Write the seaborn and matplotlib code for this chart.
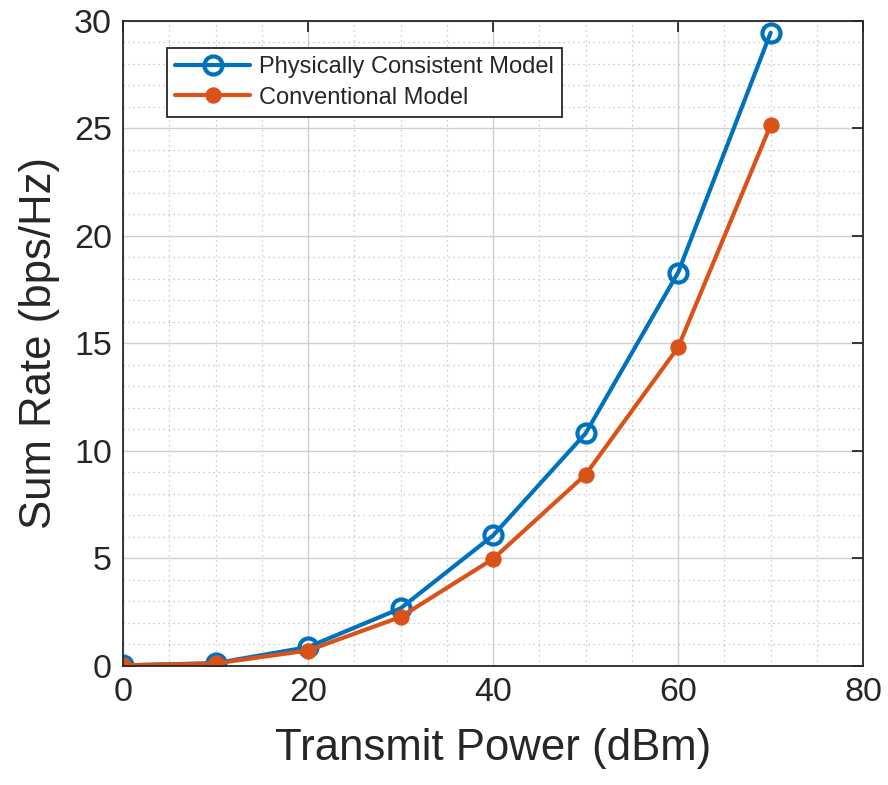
import matplotlib
matplotlib.use("Agg")
import matplotlib.pyplot as plt
import seaborn as sns
import pandas as pd
from matplotlib.ticker import MultipleLocator

power_dbm = [0, 10, 20, 30, 40, 50, 60, 70]
rate_physical = [0.03, 0.13, 0.88, 2.68, 6.07, 10.82, 18.3, 29.45]
rate_conventional = [0.03, 0.12, 0.72, 2.28, 4.98, 8.9, 14.82, 25.15]
series_names = ["Physically Consistent Model", "Conventional Model"]

sns.set_theme(style="white")
plt.rcParams["font.family"] = ["Liberation Sans", "DejaVu Sans"]

df = pd.DataFrame({
    "power": power_dbm * 2,
    "rate": rate_physical + rate_conventional,
    "model": [series_names[0]] * len(power_dbm) + [series_names[1]] * len(power_dbm),
})

fig = plt.figure(figsize=(8.88, 7.85), dpi=100)
ax = fig.add_axes([0.1385, 0.1516, 0.8335, 0.8217])

blue = "#0072BD"
orange = "#D95319"

sns.lineplot(data=df[df.model == series_names[0]], x="power", y="rate", ax=ax,
             color=blue, lw=3.0, marker="o", markersize=13, markerfacecolor="none",
             markeredgecolor=blue, markeredgewidth=3.0, label=series_names[0])
sns.lineplot(data=df[df.model == series_names[1]], x="power", y="rate", ax=ax,
             color=orange, lw=3.0, marker="o", markersize=11, markerfacecolor=orange,
             markeredgecolor=orange, label=series_names[1])

ax.set_xlim(0, 80)
ax.set_ylim(0, 30)
ax.xaxis.set_major_locator(MultipleLocator(20))
ax.xaxis.set_minor_locator(MultipleLocator(5))
ax.yaxis.set_major_locator(MultipleLocator(5))
ax.yaxis.set_minor_locator(MultipleLocator(1))
ax.grid(which="major", color="#d0d0d0", lw=1.0, ls="-")
ax.grid(which="minor", color="#bbbbbb", lw=0.9, ls=(0, (1, 3)))
ax.set_axisbelow(True)

for s in ax.spines.values():
    s.set_color("#262626")
    s.set_linewidth(1.3)
ax.tick_params(which="major", direction="in", length=8, width=1.3, top=True, right=True,
               labelsize=24.5, colors="#262626", pad=8)
ax.tick_params(which="minor", length=0)

ax.set_xlabel("Transmit Power (dBm)", fontsize=31.5, color="#262626", labelpad=14)
ax.set_ylabel("Sum Rate (bps/Hz)", fontsize=31.5, color="#262626", labelpad=10)

leg = ax.legend(loc="upper left", bbox_to_anchor=(0.059, 0.958), fontsize=17,
                frameon=True, fancybox=False, edgecolor="#262626", framealpha=1,
                handlelength=3.2, borderpad=0.35, labelspacing=0.35, handletextpad=0.35,
                borderaxespad=0)
leg.get_frame().set_linewidth(1.3)

fig.savefig("out.png", dpi=100)
